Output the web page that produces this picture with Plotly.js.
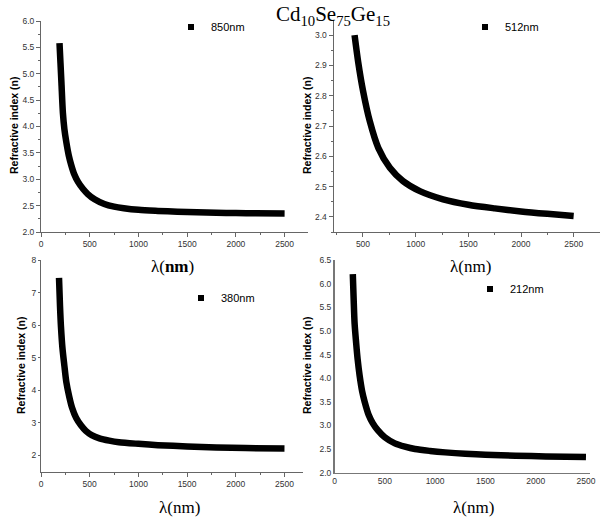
<!DOCTYPE html>
<html>
<head>
<meta charset="utf-8">
<script src="https://cdn.plot.ly/plotly-3.0.1.min.js"></script>
<style>html,body{margin:0;padding:0;background:#fff}#chart{width:600px;height:518px}</style>
</head>
<body>
<div id="chart"></div>
<script>
// ---- data (wavelength in nm, refractive index n) ----
const lam850 = [190, 200, 210, 225, 240, 260, 285, 310, 340, 380, 430, 480, 550, 650, 750, 850, 1000, 1200, 1400, 1600, 1800, 2000, 2200, 2500];
const n850   = [5.58, 5.2, 4.82, 4.25, 3.95, 3.7, 3.45, 3.27, 3.1, 2.95, 2.82, 2.72, 2.62, 2.53, 2.48, 2.45, 2.42, 2.4, 2.385, 2.375, 2.365, 2.36, 2.355, 2.35];

const lam512 = [420, 455, 500, 565, 645, 755, 880, 1040, 1260, 1500, 1750, 2000, 2250, 2500];
const n512   = [3.0, 2.91, 2.817, 2.715, 2.628, 2.562, 2.518, 2.485, 2.458, 2.44, 2.428, 2.418, 2.41, 2.403];

const lam380 = [185, 195, 205, 220, 240, 260, 290, 320, 360, 410, 460, 520, 600, 700, 800, 1000, 1200, 1500, 1800, 2100, 2500];
const n380   = [7.45, 6.6, 5.95, 5.3, 4.75, 4.25, 3.8, 3.45, 3.15, 2.92, 2.75, 2.62, 2.52, 2.45, 2.4, 2.35, 2.31, 2.27, 2.24, 2.22, 2.21];

const lam212 = [182, 190, 200, 215, 230, 250, 275, 300, 340, 380, 430, 500, 600, 700, 800, 950, 1100, 1300, 1500, 1800, 2100, 2500];
const n212   = [6.2, 5.7, 5.15, 4.75, 4.4, 4.05, 3.72, 3.5, 3.22, 3.05, 2.9, 2.75, 2.62, 2.55, 2.5, 2.46, 2.43, 2.4, 2.38, 2.36, 2.345, 2.33];

const seriesNames = ['850nm', '512nm', '380nm', '212nm'];
const mainTitle = 'Cd<sub>10</sub>Se<sub>75</sub>Ge<sub>15</sub>';
const yTitle = 'Refractive index (n)';
const xTitles = ['λ(<b>nm</b>)', 'λ(nm)', 'λ(nm)', 'λ(nm)'];

// ---- traces ----
const sets = [[lam850, n850], [lam512, n512], [lam380, n380], [lam212, n212]];
const axisIds = [['x', 'y'], ['x2', 'y2'], ['x3', 'y3'], ['x4', 'y4']];
const legendIds = ['legend', 'legend2', 'legend3', 'legend4'];
const traces = [];
sets.forEach((s, i) => {
  traces.push({
    x: s[0], y: s[1], xaxis: axisIds[i][0], yaxis: axisIds[i][1],
    mode: 'lines', line: {color: '#000', width: 6.5, shape: 'spline', smoothing: 0.8},
    showlegend: false, hoverinfo: 'x+y'
  });
  traces.push({
    x: [null], y: [null], xaxis: axisIds[i][0], yaxis: axisIds[i][1],
    mode: 'markers', marker: {symbol: 'square', size: 6, color: '#000'},
    name: seriesNames[i], legend: legendIds[i], showlegend: true
  });
});

const W = 600, H = 518;
const px = v => v / W;
const py = v => 1 - v / H;

const tickFont = {family: 'Liberation Sans, Arial, sans-serif', size: 8.5, color: '#333'};
const baseAxis = {
  showgrid: false, zeroline: false, showline: true, linecolor: '#666', linewidth: 1,
  tickfont: tickFont, tickcolor: '#666', fixedrange: true
};
const legFont = {family: 'Liberation Sans, Arial, sans-serif', size: 11, color: '#000'};
const legBase = {bgcolor: 'rgba(0,0,0,0)', borderwidth: 0, font: legFont, xanchor: 'left', yanchor: 'middle', itemwidth: 30};

const layout = {
  width: W, height: H,
  margin: {l: 0, r: 0, t: 0, b: 0},
  paper_bgcolor: '#fff', plot_bgcolor: 'rgba(0,0,0,0)',
  title: {text: mainTitle, x: px(333), xanchor: 'center', xref: 'paper', y: py(14), yref: 'container', yanchor: 'middle',
          font: {family: 'Liberation Serif, Times New Roman, serif', size: 21, color: '#000'}},
  xaxis: Object.assign({}, baseAxis, {domain: [px(41), px(308)], anchor: 'y', range: [0, 2740],
          tick0: 0, dtick: 500, ticks: 'outside', ticklen: 4, minor: {dtick: 250, ticks: 'outside', ticklen: 2, tickcolor: '#666'}}),
  yaxis: Object.assign({}, baseAxis, {domain: [py(232), py(21)], anchor: 'x', range: [2.0, 6.0],
          tick0: 2, dtick: 0.5, tickformat: '.1f', ticks: 'outside', ticklen: 4, minor: {dtick: 0.25, ticks: 'outside', ticklen: 2, tickcolor: '#666'}}),
  xaxis2: Object.assign({}, baseAxis, {domain: [px(333.5), px(600)], anchor: 'y2', range: [220, 2750],
          tick0: 0, dtick: 500, ticks: 'outside', ticklen: 4, minor: {dtick: 250, ticks: 'outside', ticklen: 2, tickcolor: '#666'}}),
  yaxis2: Object.assign({}, baseAxis, {domain: [py(232), py(20)], anchor: 'x2', range: [2.35, 3.05],
          tick0: 2.4, dtick: 0.1, tickformat: '.1f', ticks: 'outside', ticklen: 4, minor: {dtick: 0.05, ticks: 'outside', ticklen: 2, tickcolor: '#666'}}),
  xaxis3: Object.assign({}, baseAxis, {domain: [px(41), px(303)], anchor: 'y3', range: [0, 2690],
          tick0: 0, dtick: 500, ticks: 'outside', ticklen: 4, minor: {dtick: 250, ticks: 'outside', ticklen: 2, tickcolor: '#666'}}),
  yaxis3: Object.assign({}, baseAxis, {domain: [py(471.5), py(260)], anchor: 'x3', range: [1.5, 8],
          tick0: 2, dtick: 1, ticks: 'outside', ticklen: 2}),
  xaxis4: Object.assign({}, baseAxis, {domain: [px(334.5), px(590)], anchor: 'y4', range: [0, 2540],
          tick0: 0, dtick: 500, ticks: '', linecolor: '#777', linewidth: 1.5}),
  yaxis4: Object.assign({}, baseAxis, {domain: [py(472.7), py(260)], anchor: 'x4', range: [2.0, 6.5],
          tick0: 2, dtick: 0.5, tickformat: '.1f', ticks: '', linecolor: '#777', linewidth: 1.5}),
  legend: Object.assign({}, legBase, {x: px(171), y: py(27)}),
  legend2: Object.assign({}, legBase, {x: px(465), y: py(27)}),
  legend3: Object.assign({}, legBase, {x: px(181), y: py(298)}),
  legend4: Object.assign({}, legBase, {x: px(470), y: py(289)}),
  annotations: []
};

const yTitlePos = [[14, 126], [307, 126], [21, 366], [307, 366]];
yTitlePos.forEach(p => {
  layout.annotations.push({text: '<b>' + yTitle + '</b>', x: px(p[0]), y: py(p[1]), xref: 'paper', yref: 'paper',
    textangle: -90, showarrow: false, xanchor: 'center', yanchor: 'middle',
    font: {family: 'Liberation Sans, Arial, sans-serif', size: 10.5, color: '#000'}});
});
const xTitlePos = [[172, 266], [470, 266], [179, 507], [473, 507]];
xTitlePos.forEach((p, i) => {
  layout.annotations.push({text: xTitles[i], x: px(p[0]), y: py(p[1]), xref: 'paper', yref: 'paper',
    showarrow: false, xanchor: 'center', yanchor: 'middle',
    font: {family: 'Liberation Serif, Times New Roman, serif', size: 17, color: '#000'}});
});

Plotly.newPlot('chart', traces, layout, {displayModeBar: false, staticPlot: true});
</script>
</body>
</html>
